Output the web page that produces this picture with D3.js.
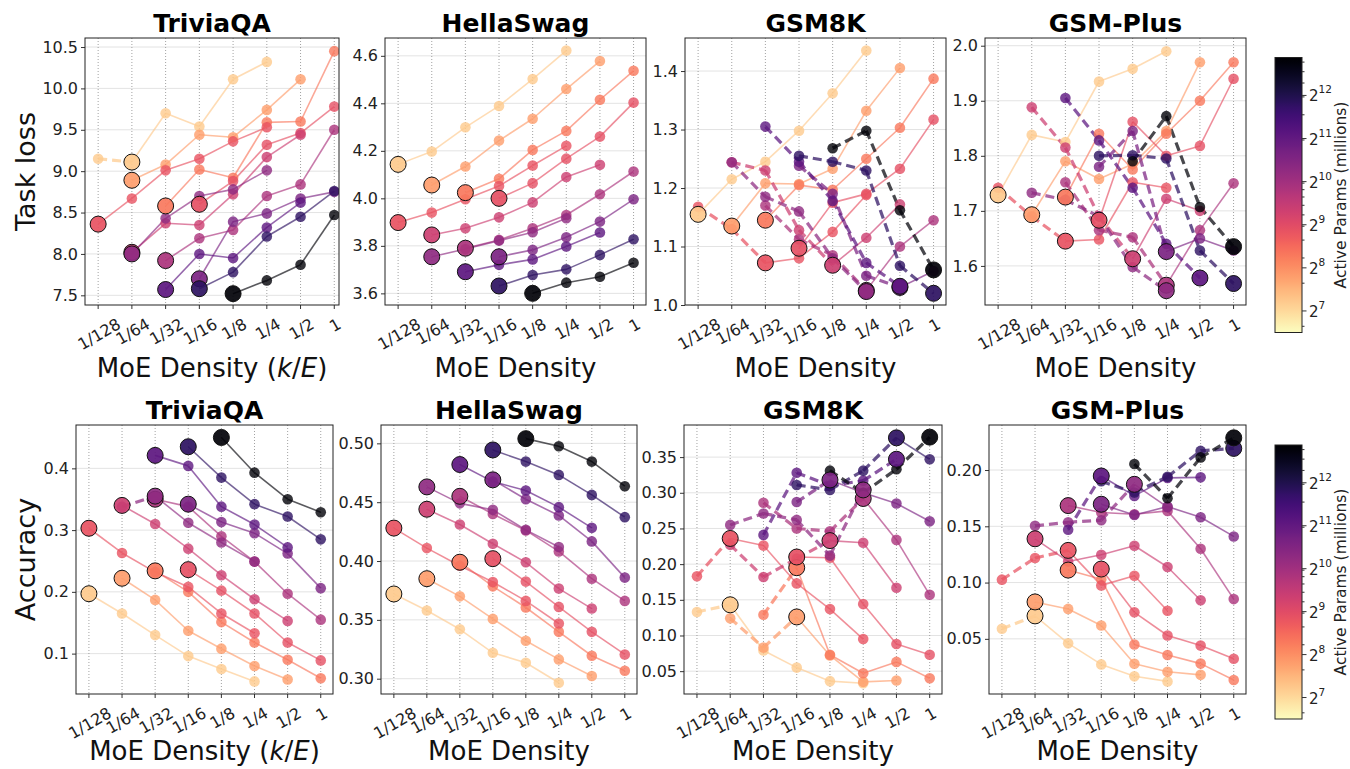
<!DOCTYPE html>
<html>
<head>
<meta charset="utf-8">
<script src="https://cdn.jsdelivr.net/npm/d3@7"></script>
<style>
  body { margin: 0; background: #fff; }
  svg { font-family: "DejaVu Sans", sans-serif; }
</style>
</head>
<body>
<svg id="chart" width="1350" height="769"></svg>
<script>
// x categories (MoE density k/E)
const densityLabels = ["1/128", "1/64", "1/32", "1/16", "1/8", "1/4", "1/2", "1"];

// one entry per model series: log2 of active params (millions) and first density index
const seriesLogParams = [7.2, 7.8, 8.3, 8.9, 8.85, 9.35, 9.85, 10.6, 10.3, 11.1, 11.8, 12.8];
const seriesStart = [0, 1, 2, 3, 0, 1, 2, 3, 1, 2, 3, 4];
const paramRange = [6.5, 12.88];

// task loss, one array per series (starting at seriesStart)
const triviaLoss = [
  [9.15, 9.11, 9.70, 9.54, 10.11, 10.32],
  [8.89, 9.08, 9.44, 9.41, 9.74, 10.11],
  [8.58, 9.02, 8.92, 9.59, 9.60, 10.45],
  [8.60, 8.88, 9.32, 9.46, 9.78],
  [8.36, 8.67, 9.01, 9.15, 9.36, 9.53],
  [8.02, 8.37, 8.35, 8.72, 9.17, 9.44],
  [7.92, 8.19, 8.29, 8.70, 8.84, 9.50],
  [7.70, 8.39, 8.49, 8.67, 8.75],
  [8.00, 8.43, 8.70, 8.78, 9.01],
  [7.57, 8.00, 7.95, 8.32, 8.62],
  [7.58, 7.78, 8.21, 8.45, 8.76],
  [7.52, 7.68, 7.87, 8.47]
];
const hellaLoss = [
  [4.143, 4.197, 4.299, 4.389, 4.502, 4.622],
  [4.056, 4.134, 4.243, 4.335, 4.46, 4.578],
  [4.024, 4.082, 4.204, 4.284, 4.415, 4.537],
  [4.00, 4.064, 4.167, 4.26, 4.403],
  [3.898, 3.94, 3.996, 4.052, 4.138, 4.221],
  [3.846, 3.874, 3.92, 3.983, 4.09, 4.141],
  [3.79, 3.825, 3.874, 3.93, 4.017, 4.113],
  [3.754, 3.783, 3.836, 3.902, 3.996],
  [3.754, 3.787, 3.822, 3.857, 3.916],
  [3.691, 3.72, 3.743, 3.797, 3.856],
  [3.631, 3.677, 3.701, 3.762, 3.828],
  [3.60, 3.645, 3.67, 3.729]
];
const gsm8kLoss = [
  [1.155, 1.215, 1.245, 1.298, 1.362, 1.435],
  [1.135, 1.208, 1.207, 1.233, 1.332, 1.405],
  [1.145, 1.205, 1.197, 1.25, 1.303, 1.387],
  [1.097, 1.175, 1.19, 1.233, 1.317],
  [1.168, 1.13, 1.072, 1.08, 1.125, 1.188],
  [1.244, 1.23, 1.128, 1.068, 1.115, 1.172],
  [1.17, 1.112, 1.085, 1.025, 1.10, 1.145],
  [1.238, 1.19, 1.05, 1.03, 1.058],
  [1.244, 1.185, 1.16, 1.08, 1.023],
  [1.305, 1.245, 1.178, 1.072, 1.032],
  [1.255, 1.245, 1.23, 1.067, 1.02],
  [1.268, 1.298, 1.162, 1.06]
];
const gsmPlusLoss = [
  [1.729, 1.838, 1.825, 1.935, 1.958, 1.99],
  [1.693, 1.79, 1.758, 1.785, 1.845, 1.97],
  [1.725, 1.84, 1.775, 1.84, 1.90, 1.97],
  [1.683, 1.862, 1.80, 1.818, 1.94],
  [1.742, 1.69, 1.645, 1.648, 1.752, 1.742],
  [1.888, 1.815, 1.69, 1.613, 1.722, 1.70],
  [1.752, 1.665, 1.652, 1.565, 1.665, 1.75],
  [1.78, 1.845, 1.626, 1.65, 1.628],
  [1.733, 1.72, 1.69, 1.598, 1.555],
  [1.905, 1.828, 1.742, 1.64, 1.578],
  [1.80, 1.801, 1.795, 1.628, 1.568],
  [1.79, 1.872, 1.707, 1.635]
];

// accuracy
const triviaAcc = [
  [0.197, 0.165, 0.13, 0.096, 0.075, 0.055],
  [0.222, 0.187, 0.137, 0.108, 0.08, 0.058],
  [0.234, 0.20, 0.151, 0.118, 0.09, 0.06],
  [0.236, 0.202, 0.165, 0.118, 0.089],
  [0.303, 0.263, 0.232, 0.208, 0.165, 0.133],
  [0.34, 0.31, 0.27, 0.227, 0.188, 0.153],
  [0.35, 0.338, 0.29, 0.249, 0.197, 0.155],
  [0.342, 0.313, 0.295, 0.262, 0.206],
  [0.338, 0.355, 0.312, 0.28, 0.249],
  [0.421, 0.404, 0.338, 0.309, 0.272],
  [0.435, 0.385, 0.342, 0.322, 0.285],
  [0.45, 0.393, 0.35, 0.329]
];
const hellaAcc = [
  [0.372, 0.358, 0.342, 0.322, 0.3136, 0.2966],
  [0.385, 0.370, 0.3508, 0.3322, 0.3164, 0.3023],
  [0.399, 0.3785, 0.3605, 0.3398, 0.3195, 0.3068],
  [0.402, 0.3825, 0.361, 0.3398, 0.3206],
  [0.428, 0.411, 0.396, 0.3822, 0.3661, 0.3469],
  [0.444, 0.431, 0.4147, 0.3989, 0.3766, 0.3596],
  [0.455, 0.440, 0.426, 0.4082, 0.385, 0.3661],
  [0.469, 0.4525, 0.4387, 0.4167, 0.3859],
  [0.463, 0.449, 0.4435, 0.4265, 0.4119],
  [0.482, 0.4675, 0.4599, 0.4458, 0.4282],
  [0.4944, 0.4845, 0.4732, 0.4562, 0.4373],
  [0.504, 0.4975, 0.4845, 0.4636]
];
const gsm8kAcc = [
  [0.133, 0.143, 0.079, 0.055, 0.036, 0.033],
  [0.124, 0.083, 0.126, 0.072, 0.035, 0.037],
  [0.129, 0.195, 0.073, 0.047, 0.063, 0.040],
  [0.210, 0.209, 0.144, 0.088, 0.073],
  [0.183, 0.236, 0.226, 0.173, 0.137, 0.095],
  [0.227, 0.182, 0.208, 0.233, 0.23, 0.167],
  [0.286, 0.25, 0.246, 0.292, 0.234, 0.157],
  [0.287, 0.318, 0.30, 0.285, 0.26],
  [0.255, 0.271, 0.262, 0.212, 0.304],
  [0.241, 0.328, 0.31, 0.317, 0.347],
  [0.311, 0.304, 0.331, 0.377, 0.347],
  [0.331, 0.30, 0.333, 0.378]
];
const gsmPlusAcc = [
  [0.059, 0.0704, 0.046, 0.0273, 0.0167, 0.0122],
  [0.0828, 0.0766, 0.0618, 0.0279, 0.0208, 0.018],
  [0.1111, 0.103, 0.045, 0.0356, 0.028, 0.0134],
  [0.112, 0.0736, 0.053, 0.044, 0.0323],
  [0.1026, 0.1218, 0.1286, 0.0975, 0.106, 0.075],
  [0.1389, 0.1188, 0.1247, 0.1327, 0.1138, 0.0843],
  [0.1684, 0.1622, 0.1607, 0.1637, 0.13, 0.0853],
  [0.1696, 0.16, 0.1675, 0.158, 0.141],
  [0.1504, 0.1536, 0.1554, 0.1873, 0.167],
  [0.1469, 0.1947, 0.177, 0.193, 0.1935],
  [0.19, 0.18, 0.194, 0.217, 0.2192],
  [0.2053, 0.1749, 0.2112, 0.2286]
];

const svg = d3.select("#chart");
const defs = svg.append("defs");

function colorOf(logP) {
  const t = (logP - paramRange[0]) / (paramRange[1] - paramRange[0]);
  return d3.interpolateMagma(1 - t);
}

const panels = [
  { title: "TriviaQA", values: triviaLoss, metric: "loss", box: [85, 339, 38, 305], xDomain: [-0.39, 7.14],
    yDomain: [7.383, 10.609], yTicks: [7.5, 8, 8.5, 9, 9.5, 10, 10.5], fmt: ".1f", yLabel: "Task loss", italic: true },
  { title: "HellaSwag", values: hellaLoss, metric: "loss", box: [385, 646, 38, 305],
    yDomain: [3.551, 4.675], yTicks: [3.6, 3.8, 4.0, 4.2, 4.4, 4.6], fmt: ".1f" },
  { title: "GSM8K", values: gsm8kLoss, metric: "loss", box: [685, 946, 38, 305],
    yDomain: [1.0, 1.4565], yTicks: [1.0, 1.1, 1.2, 1.3, 1.4], fmt: ".1f" },
  { title: "GSM-Plus", values: gsmPlusLoss, metric: "loss", box: [985, 1246, 38, 305],
    yDomain: [1.529, 2.014], yTicks: [1.6, 1.7, 1.8, 1.9, 2.0], fmt: ".1f" },
  { title: "TriviaQA", values: triviaAcc, metric: "acc", box: [76, 333, 425, 694],
    yDomain: [0.0346, 0.4702], yTicks: [0.1, 0.2, 0.3, 0.4], fmt: ".1f", yLabel: "Accuracy", italic: true },
  { title: "HellaSwag", values: hellaAcc, metric: "acc", box: [381, 637, 425, 694],
    yDomain: [0.287, 0.5156], yTicks: [0.30, 0.35, 0.40, 0.45, 0.50], fmt: ".2f" },
  { title: "GSM8K", values: gsm8kAcc, metric: "acc", box: [684, 942, 425, 694],
    yDomain: [0.018, 0.395], yTicks: [0.05, 0.10, 0.15, 0.20, 0.25, 0.30, 0.35], fmt: ".2f" },
  { title: "GSM-Plus", values: gsmPlusAcc, metric: "acc", box: [989, 1246, 425, 694],
    yDomain: [0.001, 0.24], yTicks: [0.05, 0.10, 0.15, 0.20], fmt: ".2f" }
];

panels.forEach((p, pi) => drawPanel(p, pi));

function drawPanel(p, pi) {
  const [x0, x1, y0, y1] = p.box;
  const x = d3.scaleLinear().domain(p.xDomain || [-0.39, 7.37]).range([x0, x1]);
  const y = d3.scaleLinear().domain(p.yDomain).range([y1, y0]);
  const g = svg.append("g");

  defs.append("clipPath").attr("id", "clip" + pi)
    .append("rect").attr("x", x0).attr("y", y0).attr("width", x1 - x0).attr("height", y1 - y0);

  // grid
  g.selectAll(".ygrid").data(p.yTicks).join("line")
    .attr("x1", x0).attr("x2", x1)
    .attr("y1", d => y(d)).attr("y2", d => y(d))
    .attr("stroke", "#e3e3e3").attr("stroke-width", 1);
  g.selectAll(".xgrid").data(d3.range(densityLabels.length)).join("line")
    .attr("x1", d => x(d)).attr("x2", d => x(d))
    .attr("y1", y0).attr("y2", y1)
    .attr("stroke", "#8a8a8a").attr("stroke-width", 0.8).attr("stroke-dasharray", "1,2");

  // series: the best point (min loss / max accuracy) gets the big marker,
  // segments leading up to it are dashed
  const series = p.values.map((vals, i) => {
    const pts = vals.map((v, j) => ({ idx: seriesStart[i] + j, v }));
    const best = p.metric === "loss" ? d3.minIndex(vals) : d3.maxIndex(vals);
    return { i, pts, best, color: colorOf(seriesLogParams[i]) };
  });

  const marks = g.append("g").attr("clip-path", `url(#clip${pi})`);
  const segs = [];
  series.forEach(s => {
    for (let j = 0; j < s.pts.length - 1; j++) {
      segs.push({ a: s.pts[j], b: s.pts[j + 1], dashed: j < s.best, color: s.color });
    }
  });
  marks.selectAll(".seg").data(segs).join("line")
    .attr("x1", d => x(d.a.idx)).attr("y1", d => y(d.a.v))
    .attr("x2", d => x(d.b.idx)).attr("y2", d => y(d.b.v))
    .attr("stroke", d => d.color)
    .attr("stroke-opacity", d => d.dashed ? 0.72 : 0.65)
    .attr("stroke-width", d => d.dashed ? 3.2 : 1.6)
    .attr("stroke-dasharray", d => d.dashed ? "9,5" : null);

  const small = [], big = [];
  series.forEach(s => s.pts.forEach((pt, j) => {
    (j === s.best ? big : small).push({ ...pt, color: s.color });
  }));
  marks.selectAll(".pt").data(small).join("circle")
    .attr("cx", d => x(d.idx)).attr("cy", d => y(d.v)).attr("r", 5.3)
    .attr("fill", d => d.color).attr("fill-opacity", 0.8);
  marks.selectAll(".best").data(big).join("circle")
    .attr("cx", d => x(d.idx)).attr("cy", d => y(d.v)).attr("r", 8)
    .attr("fill", d => d.color).attr("fill-opacity", 0.92)
    .attr("stroke", "#111").attr("stroke-width", 1);

  // y axis
  const yAxis = d3.axisLeft(y).tickValues(p.yTicks).tickFormat(d3.format(p.fmt)).tickSize(4).tickPadding(3);
  const yg = g.append("g").attr("transform", `translate(${x0},0)`).call(yAxis);
  yg.select(".domain").remove();
  yg.selectAll("text").attr("font-size", 16).attr("fill", "#222").attr("font-family", "DejaVu Sans");
  yg.selectAll("line").attr("stroke", "#333");

  // x axis ticks and rotated labels
  const xg = g.append("g");
  xg.selectAll("line").data(d3.range(densityLabels.length)).join("line")
    .attr("x1", d => x(d)).attr("x2", d => x(d)).attr("y1", y1).attr("y2", y1 + 4)
    .attr("stroke", "#333");
  xg.selectAll("text").data(d3.range(densityLabels.length)).join("text")
    .attr("font-size", 16).attr("fill", "#222")
    .attr("text-anchor", "middle").attr("dominant-baseline", "central")
    .text(d => densityLabels[d])
    .each(function (d) {
      const w = this.getComputedTextLength();
      const h = w * 0.5 + 16 * 0.95;
      const cx = x(d) + 1, cy = y1 + 10 + h / 2;
      d3.select(this).attr("x", cx).attr("y", cy).attr("transform", `rotate(-30,${cx},${cy})`);
    });

  // frame
  g.append("rect").attr("x", x0).attr("y", y0).attr("width", x1 - x0).attr("height", y1 - y0)
    .attr("fill", "none").attr("stroke", "#222").attr("stroke-width", 1);

  // title
  g.append("text").attr("x", (x0 + x1) / 2).attr("y", y0 - 6)
    .attr("text-anchor", "middle").attr("font-size", 25).attr("font-weight", "bold")
    .attr("fill", "#000").text(p.title);

  // x label
  const xl = g.append("text").attr("x", (x0 + x1) / 2).attr("y", y1 + (y0 < 100 ? 72 : 66))
    .attr("text-anchor", "middle").attr("font-size", 26).attr("fill", "#111");
  xl.append("tspan").text("MoE Density");
  if (p.italic) {
    xl.append("tspan").text(" (");
    xl.append("tspan").attr("font-style", "italic").text("k");
    xl.append("tspan").text("/");
    xl.append("tspan").attr("font-style", "italic").text("E");
    xl.append("tspan").text(")");
  }

  // y label
  if (p.yLabel) {
    const cy = (y0 + y1) / 2;
    g.append("text").attr("transform", `translate(35,${cy}) rotate(-90)`)
      .attr("text-anchor", "middle").attr("font-size", 27).attr("fill", "#111").text(p.yLabel);
  }
}

// colorbars
function drawColorbar(top, bottom, gid) {
  const left = 1275, right = 1302;
  const grad = defs.append("linearGradient").attr("id", gid)
    .attr("x1", 0).attr("x2", 0).attr("y1", 1).attr("y2", 0);
  d3.range(0, 1.0001, 0.02).forEach(t => {
    grad.append("stop").attr("offset", t).attr("stop-color", d3.interpolateMagma(1 - t));
  });
  const c = d3.scaleLinear().domain(paramRange).range([bottom, top]);
  const g = svg.append("g");
  g.append("rect").attr("x", left).attr("y", top).attr("width", right - left).attr("height", bottom - top)
    .attr("fill", `url(#${gid})`).attr("stroke", "#222").attr("stroke-width", 1);

  // minor ticks at base-10 multiples
  const minors = [];
  [10, 100, 1000].forEach(e => d3.range(1, 10).forEach(m => {
    const v = Math.log2(m * e);
    if (v > paramRange[0] && v < paramRange[1]) minors.push(v);
  }));
  g.selectAll(".minor").data(minors).join("line")
    .attr("x1", right).attr("x2", right + 2.5).attr("y1", d => c(d)).attr("y2", d => c(d))
    .attr("stroke", "#333");
  const majors = [7, 8, 9, 10, 11, 12];
  g.selectAll(".major").data(majors).join("line")
    .attr("x1", right).attr("x2", right + 4.5).attr("y1", d => c(d)).attr("y2", d => c(d))
    .attr("stroke", "#333");
  const labels = g.selectAll(".lab").data(majors).join("text")
    .attr("x", right + 7).attr("y", d => c(d) + 6)
    .attr("font-size", 15).attr("fill", "#222");
  labels.append("tspan").text("2");
  labels.append("tspan").attr("dy", -8).attr("font-size", 10.5).text(d => d);

  g.append("text").attr("transform", `translate(1341,${(top + bottom) / 2}) rotate(-90)`)
    .attr("text-anchor", "middle").attr("dominant-baseline", "central")
    .attr("font-size", 15.5).attr("fill", "#222").text("Active Params (millions)");
}
drawColorbar(57.5, 332.5, "cbTop");
drawColorbar(445, 719, "cbBottom");
</script>
</body>
</html>
